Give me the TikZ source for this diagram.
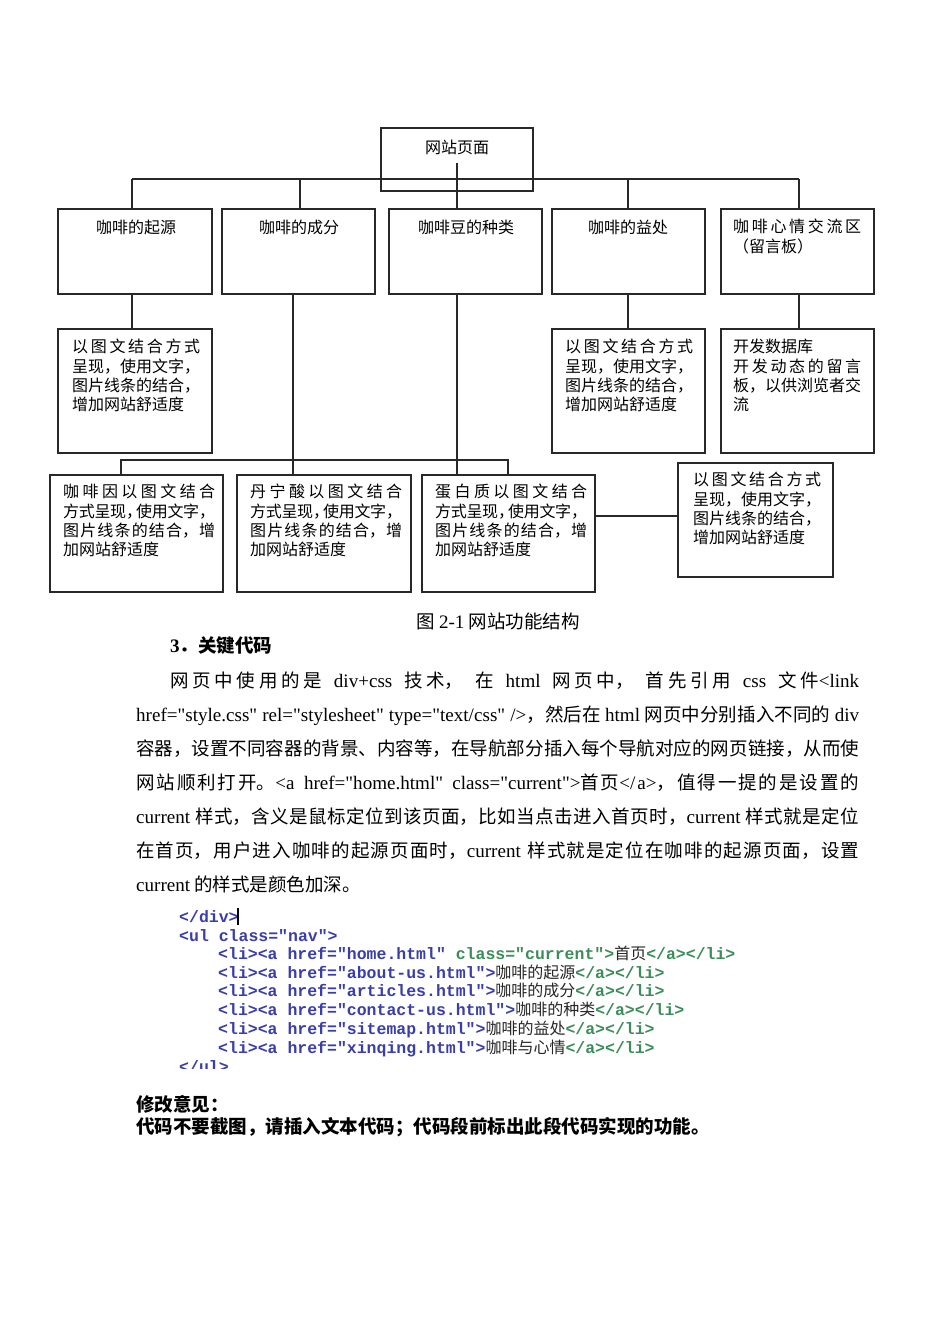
\documentclass[tikz,border=0pt]{standalone}
\usepackage{fontspec}
\setmainfont{Noto Sans CJK SC}
\newfontfamily\cjk{Noto Sans CJK SC}
\newfontfamily\lat{Liberation Serif}[Scale=1.03]
\newfontfamily\cmono{Liberation Mono}
\XeTeXlinebreaklocale "zh"
\XeTeXlinebreakskip=0pt plus 1pt minus 0.5pt
\hbadness=10000
\hfuzz=3pt
\tolerance=9999
\definecolor{cblue}{RGB}{58,62,168}
\definecolor{cgreen}{RGB}{62,140,92}
\definecolor{ln}{RGB}{40,40,40}
\newcommand\boxfont{\fontsize{16}{19.3}\selectfont}
\newcommand\bodyfont{\fontsize{18.5}{34}\selectfont}
\newcommand\codefont{\cmono\bfseries\fontsize{16.5}{18}\selectfont}
\newcommand\cc[1]{{\cjk\mdseries\color{black!85}\fontsize{16}{18}\selectfont #1}}
\begin{document}
\begin{tikzpicture}[x=1pt,y=-1pt,
  box/.style={draw=ln, line width=1.2pt, inner sep=0pt, outer sep=0pt, anchor=north west},
  btxt/.style={anchor=base west, inner sep=0pt, align=justify, font=\boxfont},
  ctxt/.style={inner sep=0pt, font=\boxfont},
  conn/.style={draw=ln, line width=1.2pt},
  code/.style={anchor=base west, inner sep=0pt, font=\codefont},
  body/.style={anchor=base west, inner sep=0pt}]
\fill[white] (0,0) rectangle (950,1344);
\useasboundingbox (0,0) rectangle (950,1344);

% boxes
\node[box, minimum width=152pt, minimum height=63pt] (top) at (381,128) {};
\node[box, minimum width=154pt, minimum height=85pt] (B1) at (58,209) {};
\node[box, minimum width=153pt, minimum height=85pt] (B2) at (222,209) {};
\node[box, minimum width=153pt, minimum height=85pt] (B3) at (389,209) {};
\node[box, minimum width=153pt, minimum height=85pt] (B4) at (552,209) {};
\node[box, minimum width=153pt, minimum height=85pt] (B5) at (721,209) {};
\node[box, minimum width=154pt, minimum height=124pt] (C1) at (58,329) {};
\node[box, minimum width=153pt, minimum height=124pt] (C4) at (552,329) {};
\node[box, minimum width=153pt, minimum height=124pt] (C5) at (721,329) {};
\node[box, minimum width=173pt, minimum height=117pt] (D1) at (50,475) {};
\node[box, minimum width=174pt, minimum height=117pt] (D2) at (237,475) {};
\node[box, minimum width=173pt, minimum height=117pt] (D3) at (422,475) {};
\node[box, minimum width=155pt, minimum height=114pt] (E) at (678,463) {};

% texts in boxes
\node[ctxt] (ttop) at (457,147) {网站页面};
\node[ctxt] (tB1) at (136,227) {咖啡的起源};
\node[ctxt] (tB2) at (299,227) {咖啡的成分};
\node[ctxt] (tB3) at (466,227) {咖啡豆的种类};
\node[ctxt] (tB4) at (628,227) {咖啡的益处};
\node[btxt, text width=128pt] (tB5) at (733,232.7) {咖啡心情交流区\break（留言板）};
\node[btxt, text width=128pt] (tC1) at (72,352.7) {以图文结合方式\break 呈现，使用文字，\break 图片线条的结合，\break 增加网站舒适度};
\node[btxt, text width=128pt] (tC4) at (565,352.7) {以图文结合方式\break 呈现，使用文字，\break 图片线条的结合，\break 增加网站舒适度};
\node[btxt, text width=128pt] (tC5) at (733,352.7) {开发数据库\hfil\break 开发动态的留言\break 板，以供浏览者交\break 流};
\node[btxt, text width=152pt] (tD1) at (63,497.7) {咖啡因以图文结合\break 方式呈现，\kern-6pt 使用文字，\break 图片线条的结合，增\break 加网站舒适度};
\node[btxt, text width=152pt] (tD2) at (250,497.7) {丹宁酸以图文结合\break 方式呈现，\kern-6pt 使用文字，\break 图片线条的结合，增\break 加网站舒适度};
\node[btxt, text width=152pt] (tD3) at (435,497.7) {蛋白质以图文结合\break 方式呈现，\kern-6pt 使用文字，\break 图片线条的结合，增\break 加网站舒适度};
\node[btxt, text width=128pt] (tE) at (693,485.7) {以图文结合方式\break 呈现，使用文字，\break 图片线条的结合，\break 增加网站舒适度};

% connectors
\coordinate (tv) at (457,163);
\coordinate (hL) at (132,179);
\coordinate (j2) at (300,179);
\coordinate (j4) at (628,179);
\coordinate (hR) at (799,179);
\coordinate (k2) at (293,0);
\coordinate (gL) at (121,460);
\coordinate (gR) at (508,460);
\coordinate (m) at (0,516);
\draw[conn] (tv) -- (tv |- B3.north);
\draw[conn] (hL) -- (hR);
\draw[conn] (hL) -- (hL |- B1.north);
\draw[conn] (j2) -- (j2 |- B2.north);
\draw[conn] (j4) -- (j4 |- B4.north);
\draw[conn] (hR) -- (hR |- B5.north);
\draw[conn] (B1.south -| hL) -- (C1.north -| hL);
\draw[conn] (B2.south -| k2) -- (D2.north -| k2);
\draw[conn] (B3.south -| tv) -- (D3.north -| tv);
\draw[conn] (B4.south -| j4) -- (C4.north -| j4);
\draw[conn] (B5.south -| hR) -- (C5.north -| hR);
\draw[conn] (gL |- D1.north) -- (gL) -- (gR) -- (gR |- D3.north);
\draw[conn] (D3.east |- m) -- (E.west |- m);

% caption and body
\node[inner sep=0pt, font=\bodyfont] (cap) at (498,621) {图 {\lat 2-1} 网站功能结构};
\node[body, font=\bodyfont\bfseries] (h3) at (170,652) {{\lat 3}．关键代码};
\node[body, text width=723pt, align=justify, font=\bodyfont] (para) at (136,687) {\hspace*{34pt}网页中使用的是 {\lat div+css} 技术， 在 {\lat html} 网页中， 首先引用 {\lat css} 文件{\lat <link}\break {\lat href="style.css" rel="stylesheet" type="text/css" />}，然后在 {\lat html} 网页中分别插入不同的 {\lat div}\break 容器，设置不同容器的背景、内容等，在导航部分插入每个导航对应的网页链接，从而使\break 网站顺利打开。{\lat <a href="home.html" class="current">}首页{\lat </a>}，值得一提的是设置的\break {\lat current} 样式，含义是鼠标定位到该页面，比如当点击进入首页时，{\lat current} 样式就是定位\break 在首页，用户进入咖啡的起源页面时，{\lat current} 样式就是定位在咖啡的起源页面，设置\break {\lat current} 的样式是颜色加深。};

% code screenshot
\begin{scope}
\clip (165,903) rectangle (790,1068);
\node[code] (c1) at (179,922) {\textcolor{cblue}{</div>}};
\node[code] (c2) at (179,941) {\textcolor{cblue}{<ul class="nav">}};
\node[code] (c3) at (218,959) {\textcolor{cblue}{<li><a href="home.html"}\textcolor{cgreen}{\ class="current">}\cc{首页}\textcolor{cgreen}{</a></li>}};
\node[code] (c4) at (218,978) {\textcolor{cblue}{<li><a href="about-us.html">}\cc{咖啡的起源}\textcolor{cgreen}{</a></li>}};
\node[code] (c5) at (218,996) {\textcolor{cblue}{<li><a href="articles.html">}\cc{咖啡的成分}\textcolor{cgreen}{</a></li>}};
\node[code] (c6) at (218,1015) {\textcolor{cblue}{<li><a href="contact-us.html">}\cc{咖啡的种类}\textcolor{cgreen}{</a></li>}};
\node[code] (c7) at (218,1034) {\textcolor{cblue}{<li><a href="sitemap.html">}\cc{咖啡的益处}\textcolor{cgreen}{</a></li>}};
\node[code] (c8) at (218,1053) {\textcolor{cblue}{<li><a href="xinqing.html">}\cc{咖啡与心情}\textcolor{cgreen}{</a></li>}};
\node[code] (c9) at (179,1072) {\textcolor{cblue}{</ul>}};
\end{scope}
\draw[line width=1.3pt, black] (238,908) -- (238,925);

% notes
\node[body, font=\bodyfont\bfseries] (n1) at (136,1111) {修改意见：};
\node[body, font=\bodyfont\bfseries] (n2) at (136,1133) {代码不要截图，请插入文本代码；代码段前标出此段代码实现的功能。};
\end{tikzpicture}
\end{document}
